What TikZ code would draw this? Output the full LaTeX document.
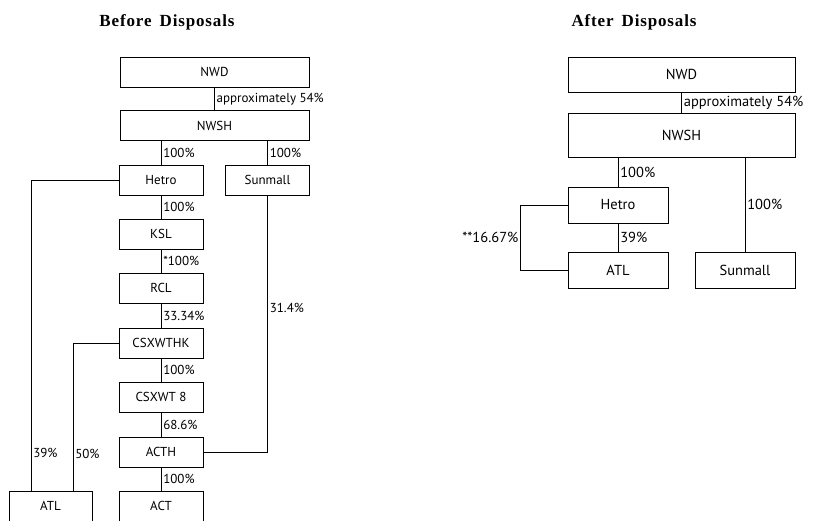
\documentclass[tikz,border=0pt]{standalone}
\usepackage{fontspec}
\setmainfont{PT Sans}
\newfontfamily\titlefont[LetterSpace=5]{Liberation Serif}
\usepackage{tikz}
\usetikzlibrary{positioning,calc}

\begin{document}
\begin{tikzpicture}[
  x=1pt, y=-1pt,
  bx/.style={draw, line width=0.6pt, inner sep=0pt, font=\fontsize{13}{15}\selectfont},
  bxr/.style={bx, font=\fontsize{14.5}{17}\selectfont},
  lbl/.style={right, inner sep=2pt, font=\fontsize{13}{15}\selectfont},
  lblr/.style={lbl, font=\fontsize{14.5}{17}\selectfont},
  ttl/.style={font=\titlefont\bfseries\fontsize{17}{19}\selectfont},
  ln/.style={line width=0.6pt}
]
\useasboundingbox (0,0) rectangle (819,520);

\node[ttl] (ttlA) at (167,22) {Before\hspace{3pt} Disposals};
\node[ttl] (ttlB) at (634,22) {After\hspace{3pt} Disposals};

\node[bx, minimum width=189pt, minimum height=30pt] (nwdA) at (214.5,72) {NWD};
\node[bx, minimum width=189pt, minimum height=30pt] (nwshA) at (214.5,125.5) {NWSH};
\node[bx, minimum width=84pt, minimum height=30pt] (hetroA) at (161,180) {Hetro};
\node[bx, minimum width=84pt, minimum height=30pt] (sunmallA) at (267.5,180) {Sunmall};
\node[bx, minimum width=84pt, minimum height=30pt] (kslA) at (161,234) {KSL};
\node[bx, minimum width=84pt, minimum height=30pt] (rclA) at (161,288) {RCL};
\node[bx, minimum width=84pt, minimum height=30pt] (csxA) at (161,343) {CSXWTHK};
\node[bx, minimum width=84pt, minimum height=30pt] (csx8A) at (161,397) {CSXWT 8};
\node[bx, minimum width=84pt, minimum height=30pt] (acthA) at (161,452) {ACTH};
\node[bx, minimum width=84pt, minimum height=30pt] (actA) at (161,506) {ACT};
\node[bx, minimum width=83pt, minimum height=30pt] (atlA) at (50.5,506) {ATL};

\draw[ln] (nwdA.south -| hetroA.east) ++(11,0) coordinate (topA) -- node[lbl] {approximately 54\%} (topA |- nwshA.north);
\draw[ln] (nwshA.south -| hetroA) -- node[lbl] {100\%} (hetroA.north);
\draw[ln] (nwshA.south -| sunmallA) -- node[lbl] {100\%} (sunmallA.north);
\draw[ln] (hetroA) -- node[lbl] {100\%} (kslA);
\draw[ln] (kslA) -- node[lbl] {*100\%} (rclA);
\draw[ln] (rclA) -- node[lbl] {33.34\%} (csxA);
\draw[ln] (csxA) -- node[lbl] {100\%} (csx8A);
\draw[ln] (csx8A) -- node[lbl] {68.6\%} (acthA);
\draw[ln] (acthA) -- node[lbl] {100\%} (actA);
\draw[ln] (hetroA.west) -| node[lbl, pos=0.94] {39\%} ([xshift=-19.5pt]atlA.north);
\draw[ln] (csxA.west) -| node[lbl, pos=0.875] {50\%} ([xshift=22.5pt]atlA.north);
\draw[ln] (sunmallA.south) |- node[lbl, pos=0.22] {31.4\%} (acthA.east);

\node[bxr, minimum width=227pt, minimum height=35pt] (nwdB) at (681.5,74.5) {NWD};
\node[bxr, minimum width=227pt, minimum height=44pt] (nwshB) at (681.5,135) {NWSH};
\node[bxr, minimum width=100pt, minimum height=36pt] (hetroB) at (618,205) {Hetro};
\node[bxr, minimum width=100pt, minimum height=36pt] (atlB) at (618,270) {ATL};
\node[bxr, minimum width=100pt, minimum height=36pt] (sunmallB) at (745,270) {Sunmall};

\draw[ln] (nwdB) -- node[lblr] {approximately 54\%} (nwshB);
\draw[ln] (nwshB.south -| hetroB) -- node[lblr] {100\%} (hetroB.north);
\draw[ln] (nwshB.south -| sunmallB) -- node[lblr] {100\%} (sunmallB.north);
\draw[ln] (hetroB) -- node[lblr] {39\%} (atlB);
\draw[ln] (hetroB.west) -- ++(-47,0) coordinate (brkB) |- node[lblr, left, pos=0.25] {**16.67\%} (atlB.west);
\end{tikzpicture}
\end{document}
